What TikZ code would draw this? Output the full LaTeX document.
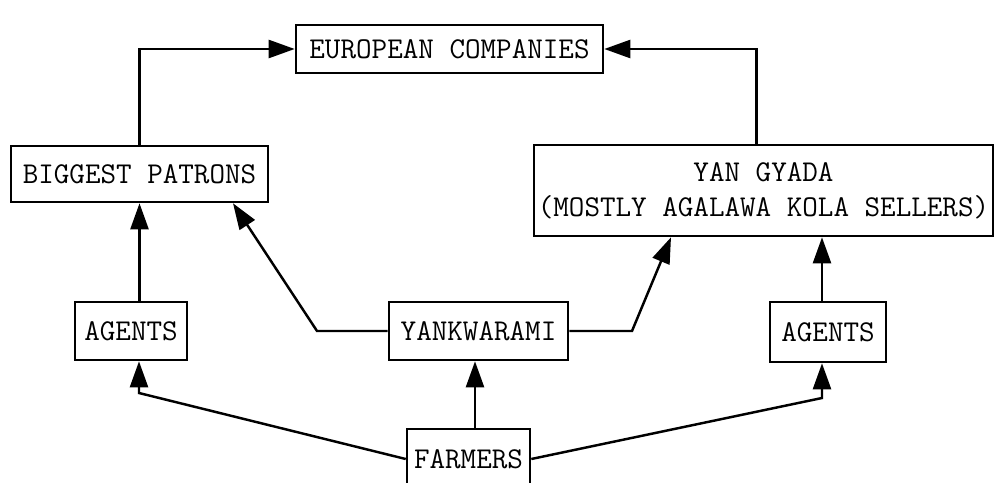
\documentclass[tikz,border=0pt]{standalone}
\usepackage{tikz}
\usetikzlibrary{arrows.meta}
\tikzstyle{box}=[draw, line width=1.5pt, inner sep=2pt, align=center, font=\ttfamily\fontsize{17.2}{20}\selectfont]
\tikzstyle{flow}=[line width=1.4pt, -{Triangle[length=0.52cm, width=0.36cm]}]

\begin{document}
\begin{tikzpicture}[x=0.02cm, y=-0.02cm]
        \clip (0,0) rectangle (1001,483);
        \node[box, minimum width=6.14cm, minimum height=0.96cm] (euro) at (449.5,49) {EUROPEAN COMPANIES};
        \node[box, minimum width=5.14cm, minimum height=1.12cm] (patrons) at (139.5,174) {BIGGEST PATRONS};
        \node[box, minimum width=9.18cm, minimum height=1.82cm] (yangyada) at (763.5,190.5) {YAN GYADA\\(MOSTLY AGALAWA KOLA SELLERS)};
        \node[box, minimum width=2.24cm, minimum height=1.16cm] (agentsl) at (131,331) {AGENTS};
        \node[box, minimum width=3.58cm, minimum height=1.16cm] (yankw) at (478.5,331) {YANKWARAMI};
        \node[box, minimum width=2.32cm, minimum height=1.2cm] (agentsr) at (828,332) {AGENTS};
        \node[box, minimum width=2.46cm, minimum height=1.2cm] (farmers) at (468.5,459) {FARMERS};
        % up to the companies
        \draw[flow] (patrons.north) |- (euro.west);
        \draw[flow] ([xshift=-0.14cm]yangyada.north) |- (euro.east);
        % middle row
        \draw[flow] (agentsl.north -| patrons.south) -- (patrons.south);
        \draw[flow] (yankw.west) -- (317,331) -- (patrons.south -| 233,0);
        \draw[flow] (yankw.east) -- (632,331) -- (yangyada.south -| 671,0);
        \draw[flow] (agentsr.north -| 822,0) -- (yangyada.south -| 822,0);
        % from the farmers
        \draw[flow] (farmers.north -| 475,0) -- (yankw.south -| 475,0);
        \draw[flow] (farmers.west) -- (139,393) -- (agentsl.south -| 139,0);
        \draw[flow] (farmers.east) -- (822,398) -- (agentsr.south -| 822,0);
\end{tikzpicture}
\end{document}
